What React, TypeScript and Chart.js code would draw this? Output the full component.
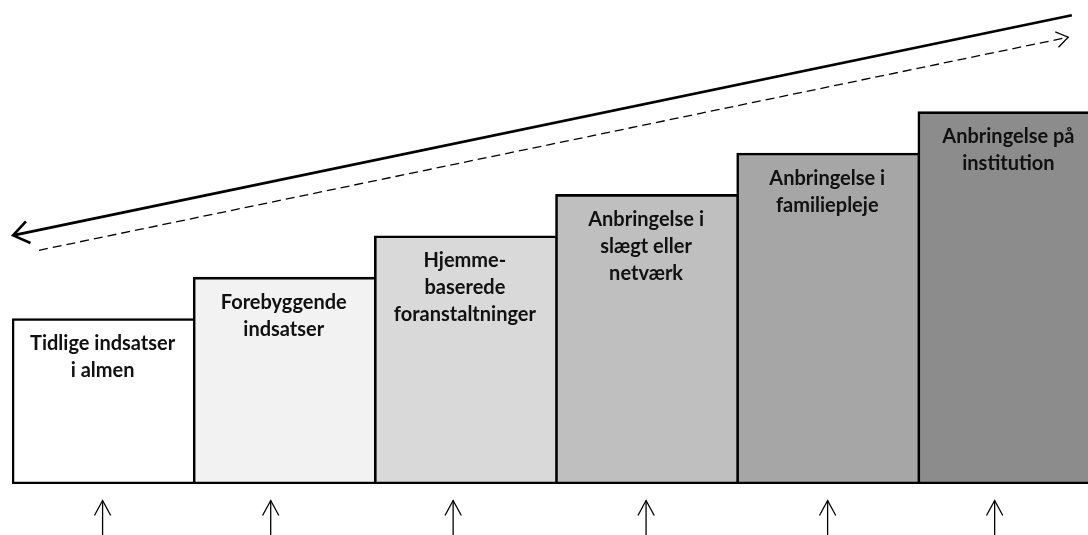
import React, { useEffect, useRef } from "react";
import { Chart, registerables } from "chart.js";

Chart.register(...registerables);

const categories: string[][] = [
  ["Tidlige indsatser", "i almen"],
  ["Forebyggende", "indsatser"],
  ["Hjemme-", "baserede", "foranstaltninger"],
  ["Anbringelse i", "slægt eller", "netværk"],
  ["Anbringelse i", "familiepleje"],
  ["Anbringelse på", "institution"],
];
const stepValues = [4, 5, 6, 7, 8, 9];
const fillColors = ["#ffffff", "#f2f2f2", "#d9d9d9", "#bfbfbf", "#a6a6a6", "#8c8c8c"];
const yMax = 11.7;

// arrows in data units: x = category index (fractional), y = value
const solidArrow = { from: [5.35, 11.33], to: [-0.494, 6.01] };
const dashedArrow = { from: [-0.351, 5.65], to: [5.33, 10.8] };
const upArrowX = [0.0, 0.928, 1.935, 3.0, 4.002, 4.924];
const upArrowTop = -0.4;
const upArrowBottom = -1.4;

function drawHead(ctx: CanvasRenderingContext2D, x1: number, y1: number, x2: number, y2: number, len: number, ang: number) {
  const a = Math.atan2(y2 - y1, x2 - x1);
  ctx.beginPath();
  ctx.moveTo(x2 - len * Math.cos(a - ang), y2 - len * Math.sin(a - ang));
  ctx.lineTo(x2, y2);
  ctx.lineTo(x2 - len * Math.cos(a + ang), y2 - len * Math.sin(a + ang));
  ctx.stroke();
}

const overlayPlugin = {
  id: "overlay",
  afterDatasetsDraw(chart: any) {
    const ctx: CanvasRenderingContext2D = chart.ctx;
    const xs = chart.scales.x;
    const ys = chart.scales.y;
    const meta = chart.getDatasetMeta(0);
    ctx.save();
    ctx.fillStyle = "#111111";
    ctx.font = "bold 20px Lato, 'Open Sans', sans-serif";
    ctx.textAlign = "center";
    ctx.textBaseline = "middle";
    meta.data.forEach((el: any, i: number) => {
      const lines = categories[i];
      lines.forEach((ln, j) => {
        ctx.fillText(ln, el.x, el.y + 25 + j * 27);
      });
    });

    const px = (p: number[]) => [xs.getPixelForValue(p[0]), ys.getPixelForValue(p[1])];
    ctx.strokeStyle = "#000";
    ctx.lineCap = "butt";
    // solid arrow
    let [x1, y1] = px(solidArrow.from);
    let [x2, y2] = px(solidArrow.to);
    ctx.lineWidth = 2.6;
    ctx.beginPath();
    ctx.moveTo(x1, y1);
    ctx.lineTo(x2, y2);
    ctx.stroke();
    ctx.lineJoin = "miter";
    drawHead(ctx, x1, y1, x2, y2, 19, 0.62);
    // dashed arrow
    [x1, y1] = px(dashedArrow.from);
    [x2, y2] = px(dashedArrow.to);
    ctx.lineWidth = 1.3;
    ctx.setLineDash([9, 5]);
    ctx.beginPath();
    ctx.moveTo(x1, y1);
    ctx.lineTo(x2, y2);
    ctx.stroke();
    ctx.setLineDash([]);
    drawHead(ctx, x1, y1, x2, y2, 14, 0.6);
    // up arrows
    ctx.lineWidth = 1.3;
    upArrowX.forEach((v) => {
      const x = xs.getPixelForValue(v);
      const yt = ys.getPixelForValue(upArrowTop);
      const yb = ys.getPixelForValue(upArrowBottom);
      ctx.beginPath();
      ctx.moveTo(x, yb);
      ctx.lineTo(x, yt);
      ctx.stroke();
      drawHead(ctx, x, yb, x, yt, 17, 0.5);
    });
    ctx.restore();
  },
};

export default function App() {
  const ref = useRef<HTMLCanvasElement>(null);
  useEffect(() => {
    if (!ref.current) return;
    const chart = new Chart(ref.current, {
      type: "bar",
      data: {
        labels: categories,
        datasets: [
          {
            data: stepValues,
            backgroundColor: fillColors,
            borderColor: "#000000",
            borderWidth: { top: 2.6, bottom: 2.6, left: 2.6, right: 0.4 },
            borderSkipped: false,
            barPercentage: 1,
            categoryPercentage: 1,
          },
        ],
      },
      options: {
        animation: false,
        responsive: false,
        devicePixelRatio: 1,
        layout: { padding: { left: 12, right: 1, top: 0, bottom: 51 } },
        plugins: { legend: { display: false }, tooltip: { enabled: false }, title: { display: false } },
        scales: {
          x: { display: false, offset: true, grid: { display: false } },
          y: { display: false, min: 0, max: yMax, grid: { display: false } },
        },
      },
      plugins: [overlayPlugin],
    });
    return () => chart.destroy();
  }, []);
  return (
    <div style={{ position: "fixed", left: 0, top: 0, width: 1088, height: 535, overflow: "hidden", background: "#fff" }}>
      <canvas ref={ref} width={1100} height={535} style={{ display: "block" }} />
    </div>
  );
}
